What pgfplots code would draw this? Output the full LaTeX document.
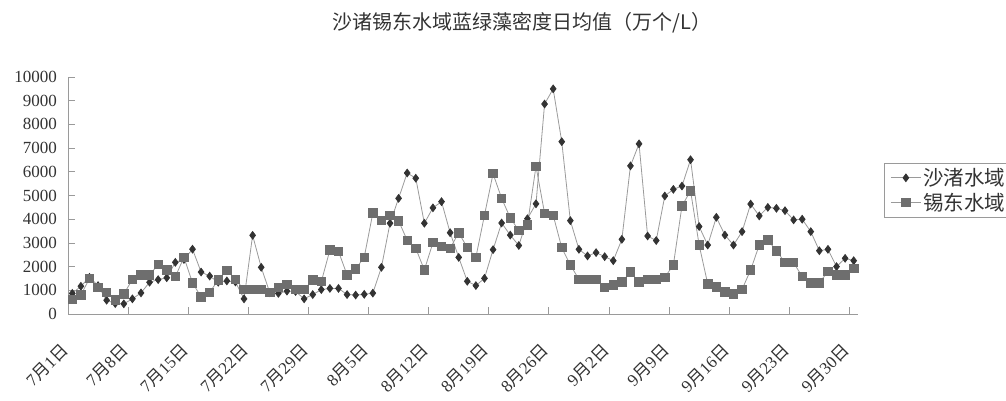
\documentclass[border=0pt]{standalone}
\usepackage{pgfplots}
\pgfplotsset{compat=1.18}
\usepackage{pgfplotstable}
\usepackage{fontspec}
\setmainfont{Liberation Serif}
\newfontfamily\cjk{Noto Sans CJK SC}
\newcommand\md[2]{#1{\cjk 月}#2{\cjk 日}}
\definecolor{linegray}{HTML}{9A9A9A}
\definecolor{diacol}{HTML}{333333}
\definecolor{sqcol}{HTML}{6E6E6E}
\definecolor{txt}{HTML}{333333}
\definecolor{axgray}{HTML}{9A9A9A}

\pgfplotstableread{
x a b
0.5 870 620
1.5 1170 800
2.5 1550 1500
3.5 1200 1130
4.5 580 920
5.5 440 590
6.5 430 850
7.5 640 1450
8.5 890 1650
9.5 1340 1650
10.5 1450 2090
11.5 1530 1860
12.5 2180 1575
13.5 2300 2390
14.5 2735 1320
15.5 1770 715
16.5 1600 920
17.5 1340 1435
18.5 1395 1850
19.5 1350 1460
20.5 640 1030
21.5 3320 1040
22.5 1970 1040
23.5 900 900
24.5 870 1130
25.5 965 1250
26.5 950 1040
27.5 640 1030
28.5 820 1440
29.5 1030 1365
30.5 1080 2700
31.5 1080 2640
32.5 820 1650
33.5 800 1900
34.5 830 2400
35.5 880 4260
36.5 1970 3940
37.5 3830 4170
38.5 4880 3930
39.5 5950 3110
40.5 5730 2770
41.5 3830 1860
42.5 4480 3010
43.5 4740 2860
44.5 3430 2770
45.5 2390 3430
46.5 1380 2800
47.5 1200 2390
48.5 1505 4170
49.5 2715 5920
50.5 3840 4880
51.5 3330 4060
52.5 2890 3520
53.5 4020 3760
54.5 4650 6230
55.5 8860 4250
56.5 9500 4170
57.5 7270 2800
58.5 3940 2070
59.5 2730 1460
60.5 2450 1460
61.5 2590 1460
62.5 2420 1125
63.5 2250 1220
64.5 3150 1350
65.5 6250 1770
66.5 7180 1350
67.5 3290 1460
68.5 3100 1460
69.5 4980 1550
70.5 5260 2070
71.5 5400 4560
72.5 6510 5200
73.5 3690 2910
74.5 2910 1270
75.5 4080 1150
76.5 3330 940
77.5 2910 840
78.5 3475 1040
79.5 4640 1860
80.5 4140 2910
81.5 4500 3120
82.5 4460 2670
83.5 4360 2170
84.5 3970 2170
85.5 4000 1575
86.5 3475 1320
87.5 2670 1320
88.5 2730 1790
89.5 2000 1650
90.5 2350 1650
91.5 2250 1930
}\data

\begin{document}
\begin{tikzpicture}
\begin{axis}[
  at={(68pt,86pt)}, anchor=south west,
  scale only axis, width=790pt, height=237pt,
  xmin=0, xmax=92, ymin=0, ymax=10000,
  axis x line=bottom, axis y line=left,
  axis line style={axgray, line width=0.8pt, -},
  tick align=inside,
  major tick length=7pt,
  tick style={axgray, line width=0.8pt},
  xtick={0,7,...,91},
  xticklabels={\md{7}{1},\md{7}{8},\md{7}{15},\md{7}{22},\md{7}{29},\md{8}{5},\md{8}{12},\md{8}{19},\md{8}{26},\md{9}{2},\md{9}{9},\md{9}{16},\md{9}{23},\md{9}{30}},
  ytick={0,1000,...,10000},
  scaled y ticks=false,
  /pgf/number format/1000 sep={},
  /pgf/number format/assume math mode=true,
  ticklabel style={font=\fontsize{17}{17}\selectfont, text=txt},
  yticklabel style={inner sep=0pt, xshift=-11pt, /pgf/number format/fixed, /pgf/number format/precision=0},
  xticklabel style={inner sep=0pt, xshift=-3pt, yshift=-33pt, rotate=45, anchor=east},
  title={{\cjk 沙诸锡东水域蓝绿藻密度日均值（万个/L）}},
  title style={at={(0.575,1.205)}, anchor=center, font=\fontsize{20}{20}\selectfont, text=txt},
  legend style={at={(1.033,0.637)}, anchor=north west, draw=axgray, line width=0.8pt,
    font=\fontsize{20.5}{23}\selectfont, text=txt, row sep=2pt, inner xsep=6pt, inner ysep=3pt},
  legend cell align=left,
  legend image code/.code={\draw[mark repeat=2,mark phase=2] plot coordinates {(0pt,0pt) (15pt,0pt) (30pt,0pt)};},
  clip=false,
]
\addplot[color=linegray, line width=0.8pt, mark=diamond*, mark size=3.8pt, mark options={fill=diacol, draw=diacol}] table[x=x,y=a]{\data};
\addlegendentry{{\cjk 沙渚水域}}
\addplot[color=linegray, line width=0.8pt, mark=square*, mark size=4.2pt, mark options={fill=sqcol, draw=sqcol}] table[x=x,y=b]{\data};
\addlegendentry{{\cjk 锡东水域}}
\end{axis}
\pgfresetboundingbox
\path[use as bounding box] (0,0) rectangle (1006pt,400pt);
\end{tikzpicture}
\end{document}
